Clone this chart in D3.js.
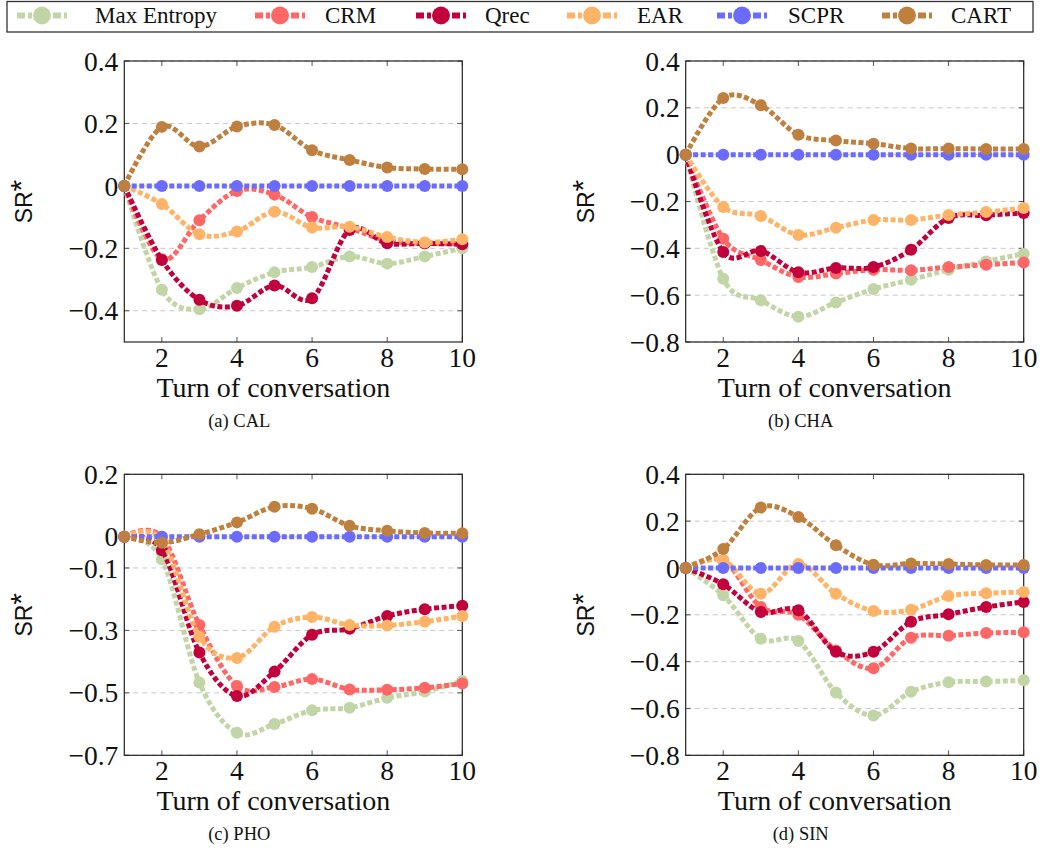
<!DOCTYPE html>
<html>
<head>
<meta charset="utf-8">
<script src="https://cdn.jsdelivr.net/npm/d3@7"></script>
<style>
  body { margin: 0; background: #fff; }
  svg { display: block; }
</style>
</head>
<body>
<svg id="chart" width="1042" height="849"></svg>
<script>
// ---- data ----
const turns = [1, 2, 3, 4, 5, 6, 7, 8, 9, 10];
const methods = ["Max Entropy", "CRM", "Qrec", "EAR", "SCPR", "CART"];
const methodColors = ["#c2d5a6", "#ff6666", "#c2003c", "#ffb366", "#6b6bff", "#bf803f"];
const xTicks = [2, 4, 6, 8, 10];

// SR* per turn; rows follow the order of `methods`
const calValues = [
  [0, -0.333, -0.395, -0.327, -0.277, -0.260, -0.226, -0.249, -0.226, -0.200],
  [0, -0.235, -0.110, -0.016, -0.028, -0.100, -0.135, -0.175, -0.184, -0.184],
  [0, -0.237, -0.365, -0.384, -0.319, -0.360, -0.141, -0.184, -0.184, -0.187],
  [0, -0.058, -0.155, -0.146, -0.083, -0.133, -0.131, -0.164, -0.181, -0.171],
  [0, 0, 0, 0, 0, 0, 0, 0, 0, 0],
  [0, 0.189, 0.126, 0.190, 0.195, 0.114, 0.083, 0.059, 0.054, 0.053]
];
const chaValues = [
  [0, -0.530, -0.622, -0.692, -0.631, -0.574, -0.534, -0.491, -0.456, -0.423],
  [0, -0.359, -0.450, -0.522, -0.508, -0.491, -0.494, -0.480, -0.470, -0.460],
  [0, -0.416, -0.411, -0.502, -0.484, -0.480, -0.406, -0.270, -0.259, -0.249],
  [0, -0.223, -0.262, -0.343, -0.312, -0.279, -0.279, -0.258, -0.245, -0.228],
  [0, 0, 0, 0, 0, 0, 0, 0, 0, 0],
  [0, 0.242, 0.211, 0.085, 0.060, 0.047, 0.026, 0.026, 0.024, 0.024]
];
const phoValues = [
  [0, -0.072, -0.467, -0.628, -0.600, -0.556, -0.548, -0.516, -0.496, -0.462],
  [0, 0.000, -0.283, -0.478, -0.481, -0.456, -0.489, -0.490, -0.484, -0.470],
  [0, -0.043, -0.371, -0.510, -0.432, -0.314, -0.295, -0.254, -0.232, -0.221],
  [0, -0.010, -0.320, -0.388, -0.288, -0.257, -0.283, -0.284, -0.272, -0.254],
  [0, 0, 0, 0, 0, 0, 0, 0, 0, 0],
  [0, -0.019, 0.008, 0.046, 0.096, 0.090, 0.035, 0.019, 0.012, 0.011]
];
const sinValues = [
  [0, -0.117, -0.302, -0.312, -0.532, -0.630, -0.529, -0.488, -0.485, -0.480],
  [0, 0.033, -0.167, -0.200, -0.352, -0.428, -0.298, -0.289, -0.278, -0.275],
  [0, -0.070, -0.188, -0.181, -0.358, -0.358, -0.230, -0.198, -0.167, -0.145],
  [0, 0.033, -0.110, 0.017, -0.110, -0.184, -0.178, -0.120, -0.108, -0.103],
  [0, 0, 0, 0, 0, 0, 0, 0, 0, 0],
  [0, 0.081, 0.258, 0.218, 0.097, 0.014, 0.019, 0.017, 0.013, 0.013]
];

const calRange = [-0.5, 0.4];
const chaRange = [-0.8, 0.4];
const phoRange = [-0.7, 0.2];
const sinRange = [-0.8, 0.4];

const calTicks = [-0.4, -0.2, 0, 0.2, 0.4];
const chaTicks = [-0.8, -0.6, -0.4, -0.2, 0, 0.2, 0.4];
const phoTicks = [-0.7, -0.5, -0.3, -0.1, 0, 0.2];
const sinTicks = [-0.8, -0.6, -0.4, -0.2, 0, 0.2, 0.4];

const captions = ["(a) CAL", "(b) CHA", "(c) PHO", "(d) SIN"];
const xLabel = "Turn of conversation";

// ---- layout ----
const svg = d3.select("#chart");
const serif = "'Liberation Serif', 'Times New Roman', serif";
const sans = "'Liberation Sans', Arial, sans-serif";
const plotW = 338, plotH = 281;
const colLeft = [124.3, 685.7];
const rowTop = [61, 474.3];

const panels = [
  { values: calValues, range: calRange, ticks: calTicks, caption: captions[0], col: 0, row: 0 },
  { values: chaValues, range: chaRange, ticks: chaTicks, caption: captions[1], col: 1, row: 0 },
  { values: phoValues, range: phoRange, ticks: phoTicks, caption: captions[2], col: 0, row: 1 },
  { values: sinValues, range: sinRange, ticks: sinTicks, caption: captions[3], col: 1, row: 1 }
];

const fmt = v => v === 0 ? "0" : (v < 0 ? "\u2212" : "") + Math.abs(v).toFixed(1);

panels.forEach(p => {
  const left = colLeft[p.col], top = rowTop[p.row];
  const g = svg.append("g").attr("transform", `translate(${left},${top})`);
  const x = d3.scaleLinear().domain([1, 10]).range([0, plotW]);
  const y = d3.scaleLinear().domain(p.range).range([plotH, 0]);

  // horizontal grid
  g.append("g").selectAll("line").data(p.ticks).join("line")
    .attr("x1", 0).attr("x2", plotW)
    .attr("y1", d => y(d)).attr("y2", d => y(d))
    .attr("stroke", "#c8c8c8").attr("stroke-width", 1)
    .attr("stroke-dasharray", "5,4");

  // inward tick marks on all four sides
  const tk = g.append("g").attr("stroke", "#555").attr("stroke-width", 1);
  xTicks.forEach(t => {
    tk.append("line").attr("x1", x(t)).attr("x2", x(t)).attr("y1", plotH).attr("y2", plotH - 5);
    tk.append("line").attr("x1", x(t)).attr("x2", x(t)).attr("y1", 0).attr("y2", 5);
  });
  p.ticks.forEach(t => {
    tk.append("line").attr("x1", 0).attr("x2", 5).attr("y1", y(t)).attr("y2", y(t));
    tk.append("line").attr("x1", plotW).attr("x2", plotW - 5).attr("y1", y(t)).attr("y2", y(t));
  });

  // frame
  g.append("rect").attr("x", 0).attr("y", 0).attr("width", plotW).attr("height", plotH)
    .attr("fill", "none").attr("stroke", "#222").attr("stroke-width", 1.2);

  // tick labels
  g.append("g").selectAll("text").data(p.ticks).join("text")
    .attr("x", -6).attr("y", d => y(d)).attr("dy", "0.35em")
    .attr("text-anchor", "end")
    .attr("font-family", serif).attr("font-size", 27.5).attr("fill", "#111")
    .text(fmt);
  g.append("g").selectAll("text").data(xTicks).join("text")
    .attr("x", d => x(d)).attr("y", plotH + 24.5)
    .attr("text-anchor", "middle")
    .attr("font-family", serif).attr("font-size", 27.5).attr("fill", "#111")
    .text(d => d);

  // axis titles and caption
  g.append("text").attr("x", 149).attr("y", plotH + 55)
    .attr("text-anchor", "middle").attr("font-family", serif).attr("font-size", 28).attr("fill", "#111")
    .text(xLabel);
  const yl = g.append("text")
    .attr("transform", `translate(-92,${plotH / 2}) rotate(-90)`)
    .attr("text-anchor", "middle").attr("font-family", sans).attr("font-size", 23).attr("fill", "#111");
  yl.append("tspan").text("SR");
  yl.append("tspan").attr("font-size", 30).attr("dy", -1).text("*");
  g.append("text").attr("x", 115).attr("y", plotH + 85)
    .attr("text-anchor", "middle").attr("font-family", serif).attr("font-size", 18.5).attr("fill", "#111")
    .text(p.caption);

  // series: line then markers, in legend order
  const line = d3.line().x(d => x(d.t)).y(d => y(d.v)).curve(d3.curveCardinal.tension(0));
  p.values.forEach((vals, i) => {
    const pts = turns.map((t, j) => ({ t, v: vals[j] }));
    const sg = g.append("g");
    sg.append("path").datum(pts).attr("d", line)
      .attr("fill", "none").attr("stroke", methodColors[i])
      .attr("stroke-width", 5).attr("stroke-dasharray", "5,2.5");
    sg.selectAll("circle").data(pts).join("circle")
      .attr("cx", d => x(d.t)).attr("cy", d => y(d.v)).attr("r", 6)
      .attr("fill", methodColors[i]);
  });
});

// ---- legend ----
const legendIcon = [42, 280, 441, 592, 742, 907];
const legendText = [95, 325, 485, 637, 788, 951];
const lg = svg.append("g");
lg.append("rect").attr("x", 7).attr("y", 1.5).attr("width", 1026).attr("height", 30.5)
  .attr("fill", "#fff").attr("stroke", "#333").attr("stroke-width", 1.3);
methods.forEach((m, i) => {
  const cx = legendIcon[i], cy = 15.5;
  lg.append("line").attr("x1", cx - 25).attr("x2", cx + 25).attr("y1", cy).attr("y2", cy)
    .attr("stroke", methodColors[i]).attr("stroke-width", 6).attr("stroke-dasharray", "8,3,4,3");
  lg.append("circle").attr("cx", cx).attr("cy", cy).attr("r", 9).attr("fill", methodColors[i]);
  lg.append("text").attr("x", legendText[i]).attr("y", 22.5)
    .attr("font-family", serif).attr("font-size", 23).attr("fill", "#111").text(m);
});
</script>
</body>
</html>
